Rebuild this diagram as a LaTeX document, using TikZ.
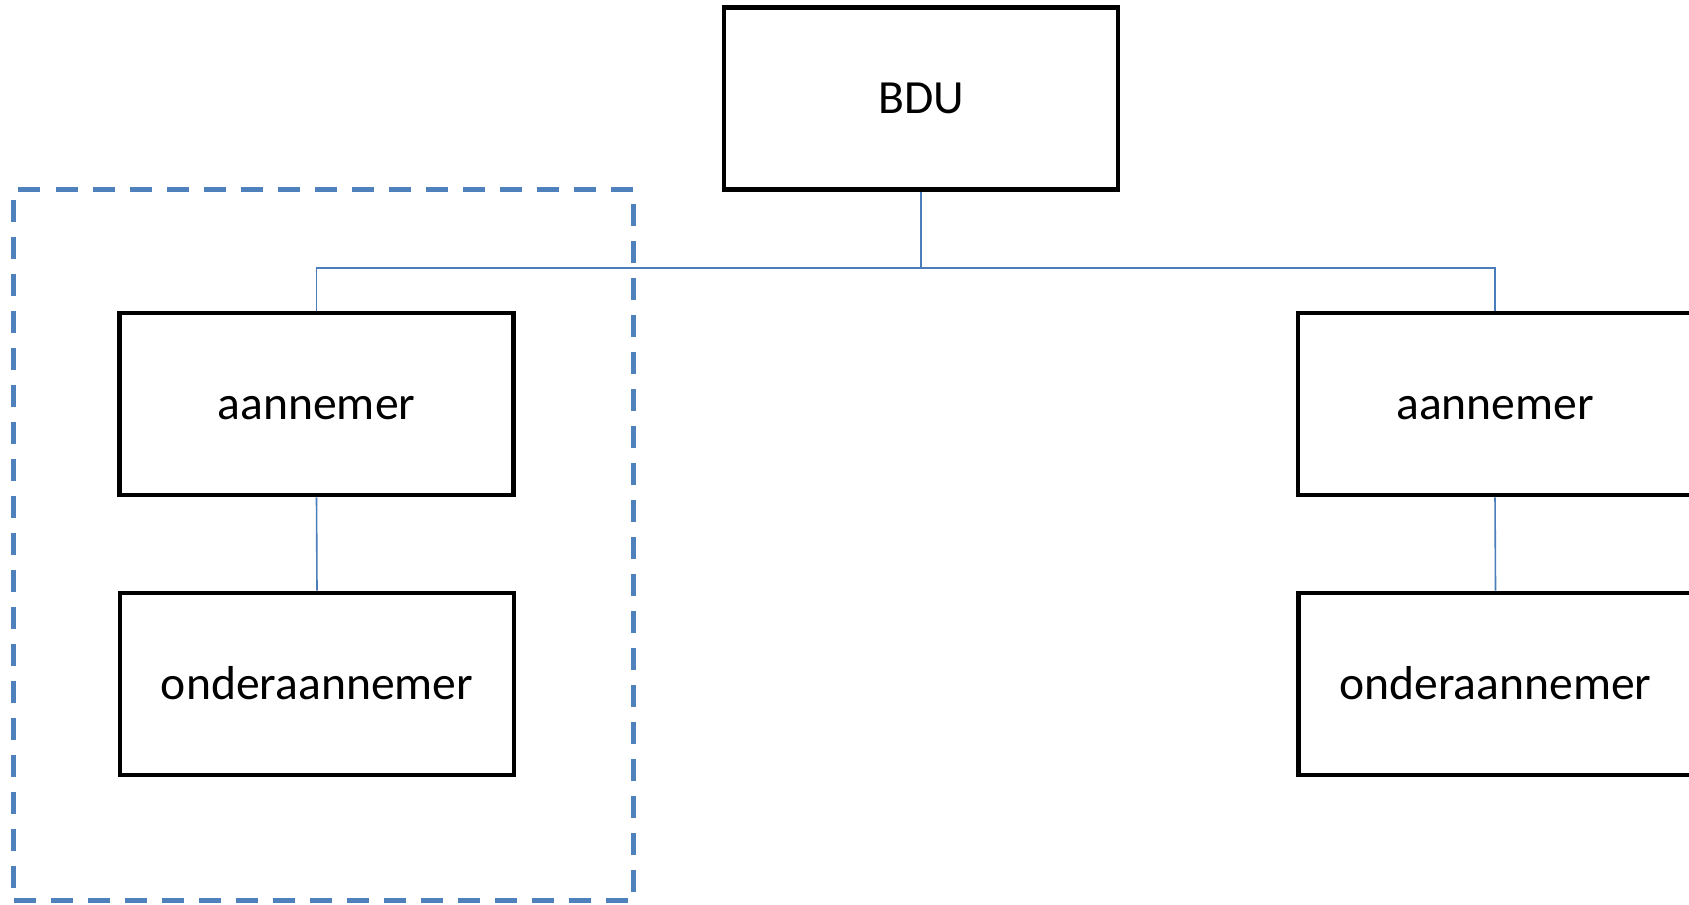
\documentclass[tikz,border=0pt]{standalone}
\usepackage{fontspec}
\setmainfont{Carlito}
\definecolor{conblue}{HTML}{4A7EBB}
\definecolor{dashblue}{HTML}{4F81BD}
\begin{document}
\begin{tikzpicture}[x=0.5pt,y=-0.5pt,
  orgbox/.style={draw=black, line width=2.3pt, fill=white, rectangle,
    minimum width=197pt, minimum height=91pt, inner sep=0pt,
    text height=17pt, text depth=2pt,
    font=\fontsize{23.8}{28}\selectfont},
  conn/.style={draw=conblue, line width=0.8pt},
  grpbox/.style={draw=dashblue, line width=2.4pt, dash pattern=on 11pt off 7.5pt,
    rectangle, minimum width=310pt, minimum height=355.5pt, inner sep=0pt}]
\useasboundingbox (0,0) rectangle (1689,904);
\node[grpbox] (grp) at (323.5,545) {};
\node[orgbox] (bdu) at (921,98.5) {BDU};
\node[orgbox] (a1) at (316.5,404) {aannemer};
\node[orgbox] (o1) at (317,684) {onderaannemer};
\node[orgbox] (a2) at (1495,404) {aannemer};
\node[orgbox] (o2) at (1495.5,684) {onderaannemer};
\coordinate (bus) at (921,267.7);
\draw[conn] (bdu.south) -- (bus) -| (a1.north);
\draw[conn] (bus) -| (a2.north);
\draw[conn] (a1.south) -- (o1.north);
\draw[conn] (a2.south) -- (o2.north);
\end{tikzpicture}
\end{document}
